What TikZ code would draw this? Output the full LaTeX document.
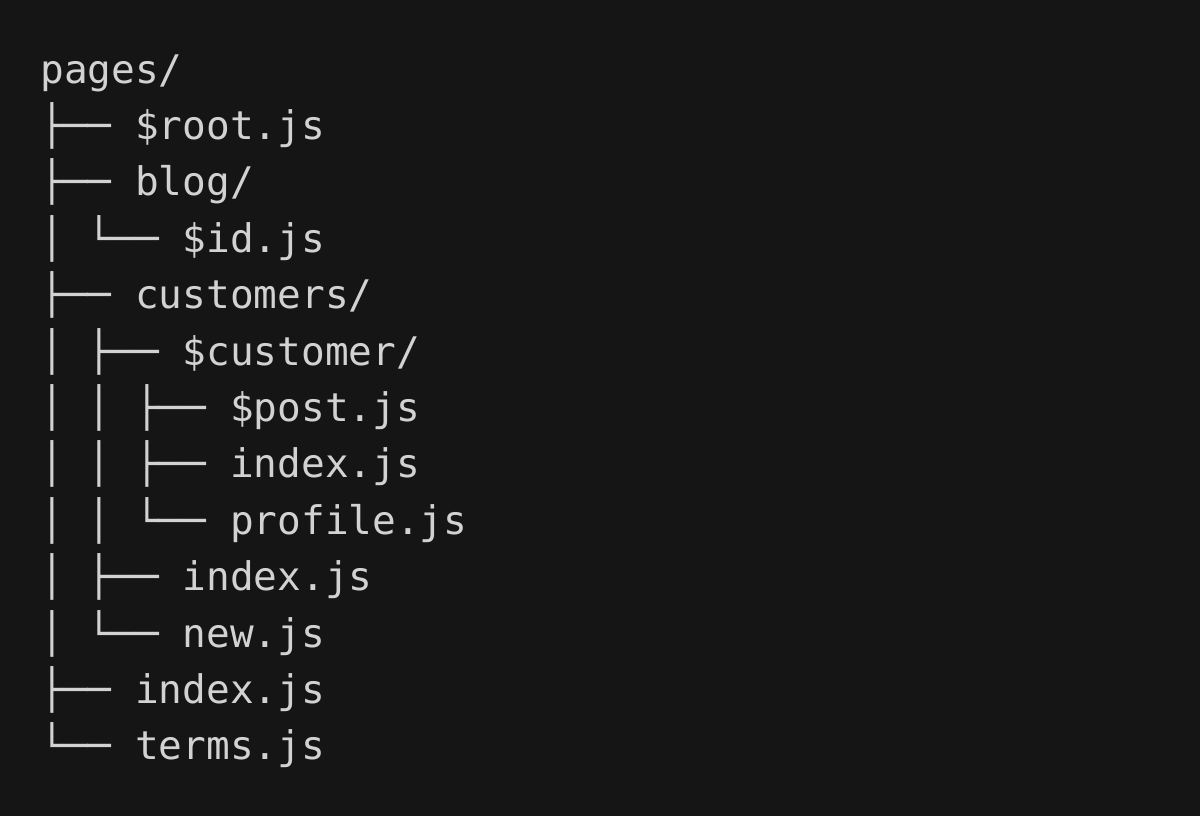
\documentclass[tikz,border=0pt]{standalone}
\usepackage{fontspec}
\setmonofont{DejaVu Sans Mono}
\definecolor{bg}{HTML}{151515}
\definecolor{fg}{HTML}{D2D2D2}
\tikzset{line/.style={anchor=base west,inner sep=0pt,text=fg,font=\ttfamily\fontsize{19.7pt}{24pt}\selectfont}}
\begin{document}
\begin{tikzpicture}[x=0.5pt,y=-0.5pt]
\fill[bg] (0,0) rectangle (1200,816);
\useasboundingbox (0,0) rectangle (1200,816);
\node[line] (l0) at (40,83.0) {pages/};
\node[line] (l1) at (40,139.4) {├── \$root.js};
\node[line] (l2) at (40,195.8) {├── blog/};
\node[line] (l3) at (40,252.2) {│ └── \$id.js};
\node[line] (l4) at (40,308.6) {├── customers/};
\node[line] (l5) at (40,365.0) {│ ├── \$customer/};
\node[line] (l6) at (40,421.4) {│ │ ├── \$post.js};
\node[line] (l7) at (40,477.8) {│ │ ├── index.js};
\node[line] (l8) at (40,534.2) {│ │ └── profile.js};
\node[line] (l9) at (40,590.6) {│ ├── index.js};
\node[line] (l10) at (40,647.0) {│ └── new.js};
\node[line] (l11) at (40,703.4) {├── index.js};
\node[line] (l12) at (40,759.8) {└── terms.js};
\end{tikzpicture}
\end{document}
